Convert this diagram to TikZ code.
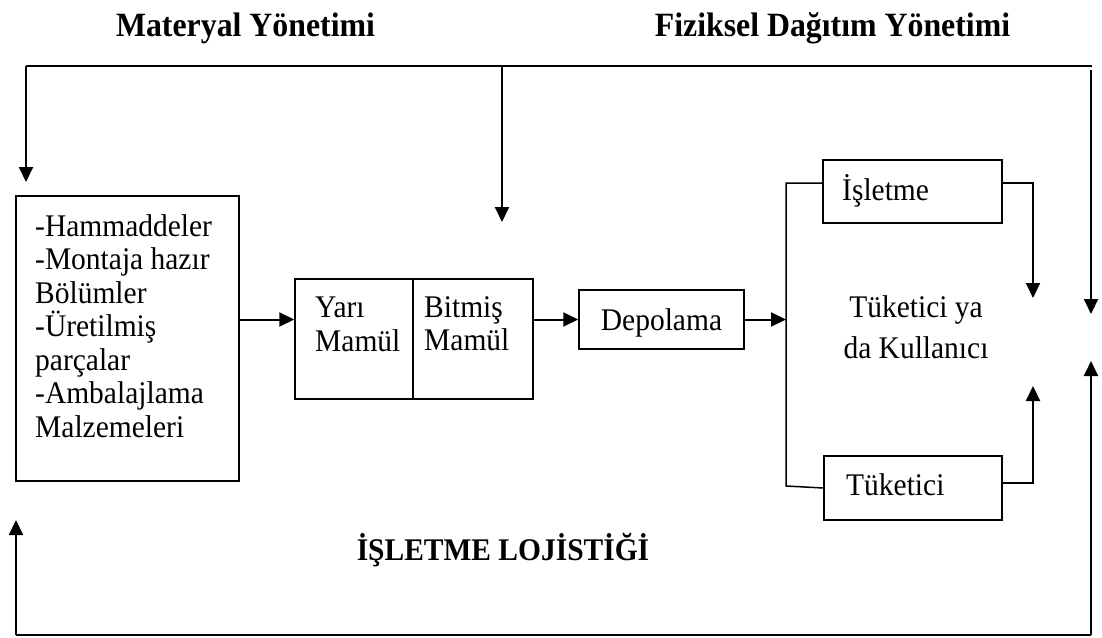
\documentclass[tikz,border=0pt]{standalone}
\usepackage{fontspec}
\setmainfont{Liberation Serif}[FakeStretch=0.936]
\usetikzlibrary{arrows.meta}
\newcommand\diagfont{\fontsize{31.5}{33.5}\selectfont}
\newcommand\headfont{\fontsize{34}{36}\selectfont\bfseries}
\begin{document}
\begin{tikzpicture}[x=1pt,y=-1pt,
  conn/.style={line width=2pt},
  thinconn/.style={line width=1.5pt},
  arrowline/.style={line width=2pt,-{Triangle[length=15pt,width=14pt]}},
  box/.style={draw,line width=1.5pt,inner sep=0pt,rectangle},
  txt/.style={inner sep=0pt,font=\diagfont},
  title/.style={inner sep=0pt,font=\headfont,anchor=base}]
\useasboundingbox (0,0) rectangle (1102,637);

% headings
\node[title] (hmat) at (245.5,36) {Materyal Yönetimi};
\node[title] (hfiz) at (832.5,36) {Fiziksel Dağıtım Yönetimi};
\node[title,font=\diagfont\bfseries] (hlog) at (503,560) {İŞLETME LOJİSTİĞİ};

% boxes
\node[box,minimum width=223pt,minimum height=285pt] (mat) at (127.5,338.5) {};
\node[txt,anchor=north west,align=left] (mattxt) at (35,214)
  {-Hammaddeler\\-Montaja hazır\\Bölümler\\-Üretilmiş\\parçalar\\-Ambalajlama\\Malzemeleri};

\node[box,minimum width=118pt,minimum height=120pt] (yari) at (354,339) {};
\node[box,minimum width=120pt,minimum height=120pt] (bitmis) at (473,339) {};
\node[txt,anchor=north west,align=left] (yaritxt) at (315,297) {Yarı\\Mamül};
\node[txt,anchor=north west,align=left] (bitmistxt) at (424,296) {Bitmiş\\Mamül};

\node[box,minimum width=165pt,minimum height=59pt] (depo) at (661.5,319.5) {};
\node[txt,anchor=base] (depotxt) at (661.5,330) {Depolama};

\node[box,minimum width=179pt,minimum height=63pt] (isl) at (912.5,191.5) {};
\node[txt,anchor=base west] (isltxt) at (842,200) {İşletme};

\node[box,minimum width=178pt,minimum height=64pt] (tuk) at (913,488) {};
\node[txt,anchor=base west] (tuktxt) at (846,495) {Tüketici};

\node[txt,anchor=north,align=center,font=\fontsize{31.5}{41}\selectfont] (kul) at (916,295)
  {Tüketici ya\\da Kullanıcı};

% connector points
\coordinate (topL) at (26,66);
\coordinate (topM) at (502,66);
\coordinate (topR) at (1092,66);
\coordinate (tipL) at (26,182);
\coordinate (tipM) at (502,222);
\coordinate (rTop) at (1091,70);
\coordinate (tipR) at (1091,314);
\coordinate (botR) at (1091,635);
\coordinate (botL) at (16,635);
\coordinate (tipRU) at (1091,361);
\coordinate (tipLU) at (16,520);
\coordinate (splitT) at (786,183);
\coordinate (splitB) at (786,486);
\coordinate (tipIs) at (1033,298);
\coordinate (tipTu) at (1033,386);

% outer feedback loop
\draw[conn] (topL) -- (topR);
\draw[arrowline] (topL) -- (tipL);
\draw[arrowline] (topM) -- (tipM);
\draw[arrowline] (rTop) -- (tipR);
\draw[conn] (botL) -- (botR);
\draw[arrowline] (botR) -- (tipRU);
\draw[arrowline] (botL) -- (tipLU);

% material flow
\draw[arrowline] (mat.east |- depo.west) -- (yari.west |- depo.west);
\draw[arrowline] (bitmis.east |- depo.west) -- (depo.west);
\draw[arrowline] (depo.east) -- (splitT |- depo.east);

% distribution branches
\draw[thinconn] (splitT -| isl.west) -- (splitT) -- (splitB) -- (tuk.west);
\draw[arrowline] (splitT -| isl.east) -| (tipIs);
\draw[arrowline] ([yshift=5pt]tuk.east) -| (tipTu);
\end{tikzpicture}
\end{document}
